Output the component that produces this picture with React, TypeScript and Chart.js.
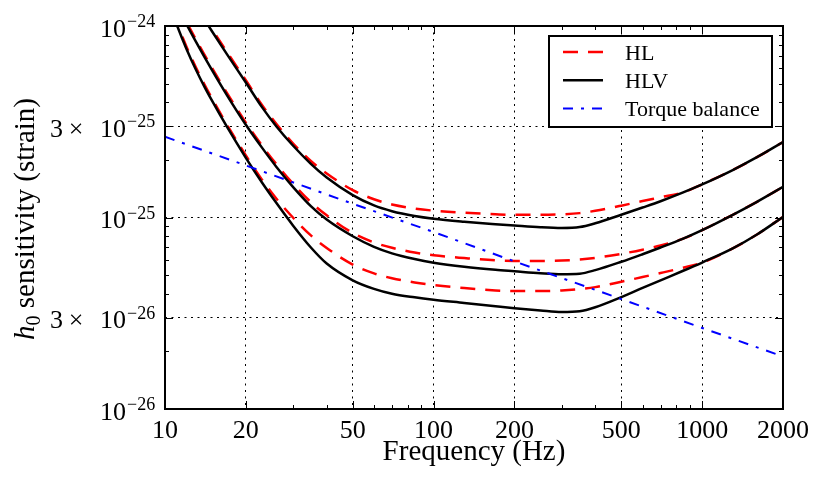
import React, { useEffect, useRef } from 'react';
import { Chart, registerables } from 'chart.js';

Chart.register(...registerables);

// frequencies (Hz) shared by the six detector curves
const FREQ = [10, 11, 12, 13, 14, 15, 17, 20, 23, 26, 30, 35, 40, 50, 60, 70, 85, 100, 130, 170, 200, 250, 300, 350, 400, 500, 600, 700, 850, 1000, 1300, 1600, 2000];

// HLV (black, solid)
const HLV_HIGH = [2.443e-24, 1.919e-24, 1.549e-24, 1.285e-24, 1.086e-24, 9.33e-25, 7.13e-25, 5.07e-25, 3.76e-25, 2.99e-25, 2.37e-25, 1.901e-25, 1.618e-25, 1.309e-25, 1.156e-25, 1.079e-25, 1.019e-25, 9.86e-26, 9.51e-26, 9.23e-26, 9.08e-26, 8.89e-26, 8.81e-26, 8.91e-26, 9.33e-26, 1.033e-25, 1.127e-25, 1.216e-25, 1.352e-25, 1.489e-25, 1.77e-25, 2.065e-25, 2.477e-25];
const HLV_MID = [1.694e-24, 1.297e-24, 1.026e-24, 8.34e-25, 6.92e-25, 5.85e-25, 4.36e-25, 3.05e-25, 2.31e-25, 1.837e-25, 1.442e-25, 1.143e-25, 9.75e-26, 7.98e-26, 7.03e-26, 6.5e-26, 6.07e-26, 5.81e-26, 5.53e-26, 5.33e-26, 5.24e-26, 5.12e-26, 5.06e-26, 5.09e-26, 5.31e-26, 5.87e-26, 6.43e-26, 6.97e-26, 7.76e-26, 8.59e-26, 1.033e-25, 1.208e-25, 1.445e-25];
const HLV_LOW = [1.5e-24, 1.035e-24, 7.64e-25, 5.96e-25, 4.84e-25, 4.05e-25, 2.98e-25, 2.05e-25, 1.518e-25, 1.189e-25, 9.06e-26, 6.95e-26, 5.75e-26, 4.7e-26, 4.24e-26, 4.0e-26, 3.83e-26, 3.72e-26, 3.58e-26, 3.44e-26, 3.36e-26, 3.27e-26, 3.21e-26, 3.24e-26, 3.4e-26, 3.84e-26, 4.29e-26, 4.7e-26, 5.27e-26, 5.82e-26, 6.9e-26, 8.15e-26, 1.007e-25];

// HL (red, dashed)
const HL_HIGH = [2.512e-24, 1.972e-24, 1.592e-24, 1.321e-24, 1.117e-24, 9.59e-25, 7.33e-25, 5.21e-25, 3.86e-25, 3.08e-25, 2.43e-25, 1.968e-25, 1.698e-25, 1.39e-25, 1.245e-25, 1.169e-25, 1.114e-25, 1.086e-25, 1.059e-25, 1.04e-25, 1.033e-25, 1.033e-25, 1.038e-25, 1.054e-25, 1.084e-25, 1.153e-25, 1.219e-25, 1.276e-25, 1.352e-25, 1.489e-25, 1.77e-25, 2.065e-25, 2.477e-25];
const HL_MID = [1.742e-24, 1.334e-24, 1.054e-24, 8.57e-25, 7.11e-25, 6.01e-25, 4.48e-25, 3.13e-25, 2.37e-25, 1.897e-25, 1.5e-25, 1.199e-25, 1.026e-25, 8.3e-26, 7.41e-26, 6.95e-26, 6.56e-26, 6.35e-26, 6.14e-26, 5.97e-26, 5.93e-26, 5.93e-26, 5.96e-26, 6.03e-26, 6.15e-26, 6.46e-26, 6.79e-26, 7.14e-26, 7.76e-26, 8.59e-26, 1.033e-25, 1.208e-25, 1.445e-25];
const HL_LOW = [1.545e-24, 1.064e-24, 7.85e-25, 6.12e-25, 4.98e-25, 4.16e-25, 3.06e-25, 2.11e-25, 1.572e-25, 1.253e-25, 9.97e-26, 8.04e-26, 6.93e-26, 5.68e-26, 5.11e-26, 4.82e-26, 4.58e-26, 4.44e-26, 4.28e-26, 4.16e-26, 4.13e-26, 4.13e-26, 4.16e-26, 4.23e-26, 4.33e-26, 4.62e-26, 4.89e-26, 5.13e-26, 5.47e-26, 5.82e-26, 6.9e-26, 8.15e-26, 1.007e-25];

// torque balance (blue, dash-dot)
const TORQUE_FREQ = [10, 20, 50, 100, 200, 500, 1000, 2000];
const TORQUE = [2.64e-25, 1.87e-25, 1.18e-25, 8.4e-26, 5.9e-26, 3.75e-26, 2.65e-26, 1.88e-26];

// axes
const X_TICKS = [10, 20, 50, 100, 200, 500, 1000, 2000];
const X_MINOR = [30, 40, 60, 70, 80, 90, 300, 400, 600, 700, 800, 900];
const Y_TICKS = [1e-26, 3e-26, 1e-25, 3e-25, 1e-24];
const Y_TICK_COEF = ['', '3', '', '3', ''];
const Y_TICK_EXP = ['−26', '−26', '−25', '−25', '−24'];
const Y_MINOR = [2e-26, 4e-26, 5e-26, 6e-26, 7e-26, 8e-26, 9e-26, 2e-25, 4e-25, 5e-25, 6e-25, 7e-25, 8e-25, 9e-25];

const FONT = '"Liberation Serif", "DejaVu Serif", serif';
const RED_DASH = [15, 10];
const BLUE_DASH = [10, 8, 3, 8];

const decorations = {
    id: 'decorations',
    afterDraw(chart: any) {
        const { ctx, chartArea: a, scales } = chart;
        const xs = scales.x;
        const ys = scales.y;
        ctx.save();
        ctx.strokeStyle = '#000';
        ctx.fillStyle = '#000';
        ctx.setLineDash([]);

        // inward tick marks on all four sides
        ctx.lineWidth = 1;
        const xTick = (v: number, len: number) => {
            const px = Math.round(xs.getPixelForValue(v)) + 0.5;
            ctx.beginPath();
            ctx.moveTo(px, a.bottom); ctx.lineTo(px, a.bottom - len);
            ctx.moveTo(px, a.top); ctx.lineTo(px, a.top + len);
            ctx.stroke();
        };
        const yTick = (v: number, len: number) => {
            const py = Math.round(ys.getPixelForValue(v)) + 0.5;
            ctx.beginPath();
            ctx.moveTo(a.left, py); ctx.lineTo(a.left + len, py);
            ctx.moveTo(a.right, py); ctx.lineTo(a.right - len, py);
            ctx.stroke();
        };
        X_TICKS.forEach(v => xTick(v, 8));
        X_MINOR.forEach(v => xTick(v, 4));
        Y_TICKS.forEach(v => yTick(v, 8));
        Y_MINOR.forEach(v => yTick(v, 4));

        // frame
        ctx.lineWidth = 2;
        ctx.strokeRect(a.left, a.top, a.right - a.left, a.bottom - a.top);

        // x tick labels
        ctx.font = `26px ${FONT}`;
        ctx.textAlign = 'center';
        ctx.textBaseline = 'alphabetic';
        X_TICKS.forEach(v => {
            ctx.fillText(String(v), xs.getPixelForValue(v), a.bottom + 29);
        });

        // y tick labels: [coef ×] 10^exp
        const mainRight = a.left - 39;
        Y_TICKS.forEach((v, i) => {
            const py = ys.getPixelForValue(v);
            const base = py + 10.5;
            ctx.font = `26px ${FONT}`;
            ctx.textAlign = 'right';
            ctx.fillText('10', mainRight, base);
            if (Y_TICK_COEF[i]) {
                ctx.textAlign = 'center';
                ctx.fillText('×', mainRight - 50, base);
                ctx.fillText(Y_TICK_COEF[i], mainRight - 69.5, base);
            }
            ctx.font = `18px ${FONT}`;
            ctx.textAlign = 'left';
            ctx.fillText(Y_TICK_EXP[i], mainRight + 1, base - 9.5);
        });

        // x axis title
        ctx.font = `29px ${FONT}`;
        ctx.textAlign = 'center';
        ctx.fillText('Frequency (Hz)', (a.left + a.right) / 2, 460);

        // y axis title: h_0 sensitivity (strain)
        ctx.save();
        ctx.translate(34, 219);
        ctx.rotate(-Math.PI / 2);
        ctx.textAlign = 'left';
        const rest = ' sensitivity (strain)';
        ctx.font = `italic 29px ${FONT}`;
        const wH = ctx.measureText('h').width;
        ctx.font = `20px ${FONT}`;
        const w0 = ctx.measureText('0').width;
        ctx.font = `29px ${FONT}`;
        const wR = ctx.measureText(rest).width;
        let x0 = -(wH + w0 + wR) / 2;
        ctx.font = `italic 29px ${FONT}`;
        ctx.fillText('h', x0, 0);
        x0 += wH;
        ctx.font = `20px ${FONT}`;
        ctx.fillText('0', x0, 6);
        x0 += w0;
        ctx.font = `29px ${FONT}`;
        ctx.fillText(rest, x0, 0);
        ctx.restore();

        // legend box
        const lx = a.right - 234;
        const ly = a.top + 10;
        const lw = 223;
        const lh = 91;
        ctx.fillStyle = '#fff';
        ctx.fillRect(lx, ly, lw, lh);
        ctx.lineWidth = 2;
        ctx.strokeStyle = '#000';
        ctx.strokeRect(lx, ly, lw, lh);
        const rows = [
            { label: 'HL', color: '#ff0000', dash: RED_DASH, width: 2.5 },
            { label: 'HLV', color: '#000000', dash: [] as number[], width: 2.5 },
            { label: 'Torque balance', color: '#0000ff', dash: BLUE_DASH, width: 2 },
        ];
        rows.forEach((r, i) => {
            const ry = ly + 16 + i * 28.3;
            ctx.beginPath();
            ctx.setLineDash(r.dash);
            ctx.strokeStyle = r.color;
            ctx.lineWidth = r.width;
            ctx.moveTo(lx + 14, ry);
            ctx.lineTo(lx + 54, ry);
            ctx.stroke();
            ctx.setLineDash([]);
            ctx.fillStyle = '#000';
            ctx.font = `22px ${FONT}`;
            ctx.textAlign = 'left';
            ctx.fillText(r.label, lx + 76, ry + 7.6);
        });
        ctx.restore();
    },
};

const series = (xs: number[], ys: number[]) => xs.map((x, i) => ({ x, y: ys[i] }));

export default function App() {
    const canvasRef = useRef<HTMLCanvasElement>(null);

    useEffect(() => {
        if (!canvasRef.current) return;
        const line = (data: any[], color: string, dash: number[], width: number, smooth: boolean) => ({
            data,
            borderColor: color,
            borderWidth: width,
            borderDash: dash,
            pointRadius: 0,
            fill: false,
            cubicInterpolationMode: smooth ? 'monotone' : 'default',
            tension: 0,
        });
        const gridOpts = { color: '#000', lineWidth: 1, drawTicks: false };
        const chart = new Chart(canvasRef.current, {
            type: 'line',
            data: {
                datasets: [
                    { label: 'Torque balance', ...line(series(TORQUE_FREQ, TORQUE), '#0000ff', BLUE_DASH, 2, false) },
                    { label: 'HLV', ...line(series(FREQ, HLV_HIGH), '#000000', [], 2.5, true) },
                    { label: 'HLV', ...line(series(FREQ, HLV_MID), '#000000', [], 2.5, true) },
                    { label: 'HLV', ...line(series(FREQ, HLV_LOW), '#000000', [], 2.5, true) },
                    { label: 'HL', ...line(series(FREQ, HL_HIGH), '#ff0000', RED_DASH, 2.5, true) },
                    { label: 'HL', ...line(series(FREQ, HL_MID), '#ff0000', RED_DASH, 2.5, true) },
                    { label: 'HL', ...line(series(FREQ, HL_LOW), '#ff0000', RED_DASH, 2.5, true) },
                ] as any,
            },
            options: {
                animation: false,
                responsive: true,
                maintainAspectRatio: false,
                events: [],
                layout: { padding: { left: 165, right: 47, top: 26, bottom: 81 } },
                plugins: { legend: { display: false }, tooltip: { enabled: false } },
                scales: {
                    x: {
                        type: 'logarithmic',
                        min: 10,
                        max: 2000,
                        afterBuildTicks: (s: any) => { s.ticks = X_TICKS.map(v => ({ value: v })); },
                        afterFit: (s: any) => { s.height = 0; },
                        ticks: { display: false },
                        grid: gridOpts,
                        border: { display: false, dash: [2, 4.5] },
                    },
                    y: {
                        type: 'logarithmic',
                        min: 1e-26,
                        max: 1e-24,
                        afterBuildTicks: (s: any) => { s.ticks = Y_TICKS.map(v => ({ value: v })); },
                        afterFit: (s: any) => { s.width = 0; },
                        ticks: { display: false },
                        grid: gridOpts,
                        border: { display: false, dash: [2, 4.5] },
                    },
                },
            } as any,
            plugins: [decorations],
        });
        return () => chart.destroy();
    }, []);

    return (
        <div style={{ position: 'fixed', left: 0, top: 0, width: 830, height: 490, background: '#fff' }}>
            <canvas ref={canvasRef} />
        </div>
    );
}
